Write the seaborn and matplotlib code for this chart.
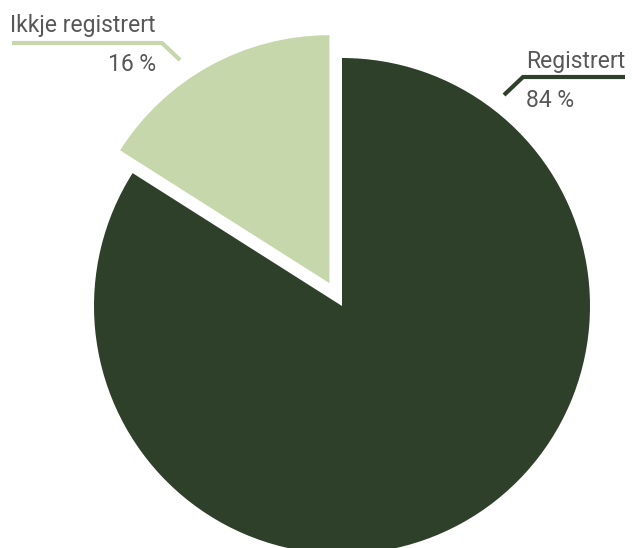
import matplotlib
matplotlib.use("Agg")
import matplotlib.pyplot as plt
import seaborn as sns

labels = ["Registrert", "Ikkje registrert"]
values = [84, 16]
pct_labels = ["84 %", "16 %"]
colors = ["#2e4029", "#c6d8ab"]

sns.set_theme(style="white")
plt.rcParams['font.family'] = ['Roboto', 'DejaVu Sans']

W, H = 632, 548
fig = plt.figure(figsize=(W / 100, H / 100), dpi=100)
ax = fig.add_axes([0, 0, 1, 1])

cx, cy, r = 342, H - 306, 248
ax.pie(values, colors=colors, startangle=90, counterclock=False,
       explode=[0, 0.105 * r], center=(cx, cy), radius=r,
       wedgeprops=dict(linewidth=0))
ax.set_xlim(0, W)
ax.set_ylim(0, H)
ax.set_aspect("equal")
ax.axis("off")

txt = "#575757"
fs = 16.5
# Registrert leader
ax.plot([504, 523, 625], [H - 95, H - 77, H - 77], color=colors[0], lw=3,
        solid_capstyle="butt")
ax.text(526, H - 68, labels[0], color=txt, fontsize=fs, ha="left", va="baseline")
ax.text(526, H - 107, pct_labels[0], color=txt, fontsize=fs, ha="left", va="baseline")
# Ikkje registrert leader
ax.plot([12, 162, 180], [H - 43, H - 43, H - 60], color=colors[1], lw=3,
        solid_capstyle="butt")
ax.text(156, H - 32, labels[1], color=txt, fontsize=fs, ha="right", va="baseline")
ax.text(156, H - 71, pct_labels[1], color=txt, fontsize=fs, ha="right", va="baseline")

fig.savefig("out.png", dpi=100, facecolor="white")
